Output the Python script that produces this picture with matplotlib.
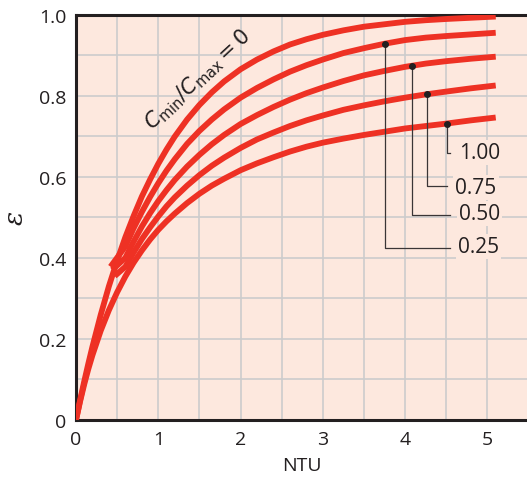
import numpy as np
import matplotlib
matplotlib.use('Agg')
import matplotlib.pyplot as plt

plt.rcParams['font.family'] = ['Open Sans', 'DejaVu Sans']
plt.rcParams['mathtext.fontset'] = 'dejavusans'

# effectiveness curves (NTU, epsilon)
ntu_full = [0, 0.05, 0.1, 0.15, 0.2, 0.3, 0.4, 0.5, 0.6, 0.7, 0.8, 0.9, 1.0, 1.1, 1.2, 1.35, 1.5,
            1.65, 1.8, 2.0, 2.2, 2.4, 2.6, 2.8, 3.0, 3.25, 3.5, 3.75, 4.0, 4.25, 4.5, 4.8, 5.1]
eps_cr0 = [0, 0.049, 0.095, 0.139, 0.181, 0.259, 0.330, 0.393, 0.451, 0.503, 0.551, 0.593, 0.632,
           0.667, 0.699, 0.741, 0.777, 0.808, 0.835, 0.865, 0.889, 0.909, 0.926, 0.939, 0.950,
           0.961, 0.970, 0.976, 0.982, 0.986, 0.989, 0.992, 0.995]
eps_cr100 = [0, 0.046, 0.088, 0.126, 0.160, 0.220, 0.271, 0.315, 0.354, 0.388, 0.418, 0.445, 0.469,
             0.490, 0.509, 0.535, 0.558, 0.578, 0.595, 0.616, 0.633, 0.648, 0.662, 0.674, 0.684,
             0.694, 0.703, 0.711, 0.719, 0.725, 0.731, 0.739, 0.746]

ntu_tail = [0.6, 0.7, 0.8, 0.9, 1.0, 1.1, 1.2, 1.35, 1.5, 1.65, 1.8, 2.0, 2.2, 2.4, 2.6, 2.8,
            3.0, 3.25, 3.5, 3.75, 4.0, 4.25, 4.5, 4.8, 5.1]
ntu_cr025 = [0.42] + ntu_tail
eps_cr025 = [0.378, 0.428, 0.473, 0.513, 0.550, 0.584, 0.615, 0.643, 0.681, 0.713, 0.741, 0.766,
             0.795, 0.819, 0.840, 0.859, 0.875, 0.889, 0.905, 0.917, 0.928, 0.937, 0.943, 0.947,
             0.951, 0.955]
ntu_cr050 = [0.44] + ntu_tail
eps_cr050 = [0.370, 0.400, 0.440, 0.477, 0.510, 0.540, 0.567, 0.592, 0.625, 0.654, 0.680, 0.703,
             0.730, 0.752, 0.772, 0.790, 0.806, 0.820, 0.836, 0.850, 0.861, 0.871, 0.879, 0.885,
             0.891, 0.896]
ntu_cr075 = [0.47] + ntu_tail
eps_cr075 = [0.355, 0.378, 0.413, 0.446, 0.475, 0.502, 0.527, 0.549, 0.578, 0.604, 0.627, 0.647,
             0.671, 0.692, 0.709, 0.725, 0.739, 0.751, 0.765, 0.776, 0.786, 0.795, 0.803, 0.810,
             0.818, 0.825]

# leader lines: dot on curve, elbow height, label
lab_text = ['1.00', '0.75', '0.50', '0.25']
dot_x = [4.51, 4.27, 4.08, 3.76]
dot_y = [0.731, 0.803, 0.872, 0.928]
elbow_y = [0.658, 0.576, 0.505, 0.425]
elbow_end = [4.55, 4.51, 4.55, 4.54]
lab_y = [0.659, 0.574, 0.509, 0.427]

red = '#ee3124'
ink = '#231f20'
bg = '#fde8de'

fig = plt.figure(figsize=(5.27, 4.85), dpi=100)
ax = fig.add_axes([0.1442, 0.132, 0.8558, 0.836])
ax.set_facecolor(bg)

for x, y in [(ntu_full, eps_cr0), (ntu_full, eps_cr100), (ntu_cr025, eps_cr025),
             (ntu_cr050, eps_cr050), (ntu_cr075, eps_cr075)]:
    ax.plot(x, y, color=red, lw=4.2, solid_capstyle='butt', solid_joinstyle='round', zorder=3)

for t, dx, dy, ey, ex, ly in zip(lab_text, dot_x, dot_y, elbow_y, elbow_end, lab_y):
    ax.plot([dx, dx, ex], [dy, ey, ey], color='#3a3536', lw=0.9, zorder=4)
    ax.plot(dx, dy, 'o', color=ink, ms=4, zorder=5)
    ax.text(ex + 0.1, ly, t, fontsize=15, color=ink, va='center', ha='left', zorder=6,
            bbox=dict(boxstyle='square,pad=0.1', fc=bg, ec='none'))

ax.text(1.48, 0.84, r'$C_{\rm min}/C_{\rm max} = 0$', fontsize=15, color=ink,
        rotation=43, ha='center', va='center', zorder=6)

ax.set_xlim(0, 5.48)
ax.set_ylim(0, 1.0)
ax.set_xticks([0, 1, 2, 3, 4, 5])
ax.set_xticks(np.arange(0.5, 5.5, 1.0), minor=True)
ax.set_yticks([0, 0.2, 0.4, 0.6, 0.8, 1.0])
ax.set_yticklabels(['0', '0.2', '0.4', '0.6', '0.8', '1.0'])
ax.set_yticks(np.arange(0.1, 1.0, 0.2), minor=True)
ax.grid(True, which='both', color='#cccccc', lw=1.2, zorder=1)
ax.set_axisbelow(True)
ax.tick_params(which='both', length=0, labelsize=14, colors=ink, pad=7)

for s in ['left', 'bottom', 'top']:
    ax.spines[s].set_color(ink)
    ax.spines[s].set_linewidth(2.2)
ax.spines['right'].set_visible(False)

ax.set_xlabel('NTU', fontsize=14, color=ink, labelpad=6)
ax.set_ylabel('ε', fontsize=19, color=ink, labelpad=8, rotation=90,
              family='DejaVu Serif', style='italic')

fig.savefig('out.png', dpi=100, facecolor='white')
